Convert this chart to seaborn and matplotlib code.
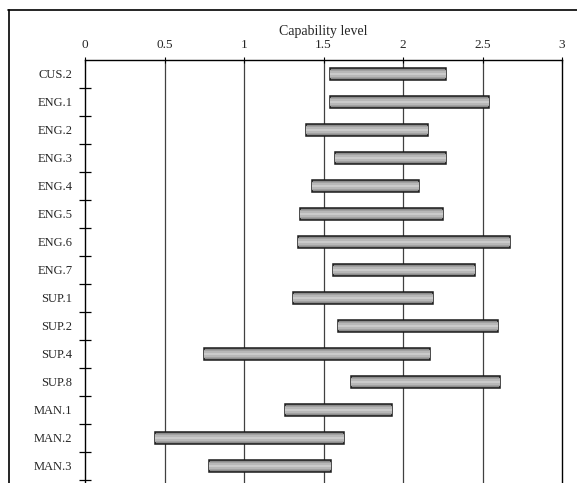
import pandas as pd
import matplotlib.pyplot as plt
import seaborn as sns
from matplotlib.lines import Line2D

processes = ["CUS.2", "ENG.1", "ENG.2", "ENG.3", "ENG.4", "ENG.5", "ENG.6", "ENG.7",
             "SUP.1", "SUP.2", "SUP.4", "SUP.8", "MAN.1", "MAN.2", "MAN.3"]
low = [1.54, 1.54, 1.39, 1.57, 1.43, 1.35, 1.34, 1.56,
       1.31, 1.59, 0.75, 1.67, 1.26, 0.44, 0.78]
high = [2.27, 2.54, 2.16, 2.27, 2.10, 2.25, 2.67, 2.45,
        2.19, 2.60, 2.17, 2.61, 1.93, 1.63, 1.55]
xticks = [0, 0.5, 1, 1.5, 2, 2.5, 3]
xticklabels = ["0", "0.5", "1", "1.5", "2", "2.5", "3"]

df = pd.DataFrame({"process": processes, "low": low, "high": high})
df["span"] = df["high"] - df["low"]

sns.set_theme(style="white")
plt.rcParams["font.family"] = ["Liberation Serif", "DejaVu Serif"]

fig = plt.figure(figsize=(5.77, 4.83), dpi=100)
ax = fig.add_axes([85 / 577, 0, 477 / 577, 423 / 483])

# vertical grid lines behind the bars
for v in xticks[1:-1]:
    ax.axvline(v, color="#404040", lw=0.9, zorder=0)

# bars with a simple "cylinder" shading: stacked layers, lighter in the middle
layers = [(0.42, "#8c8c8c", "#1a1a1a", 1.1),
          (0.30, "#a2a2a2", "none", 0),
          (0.20, "#b8b8b8", "none", 0),
          (0.08, "#cbcbcb", "none", 0)]
for h, fc, ec, lw in layers:
    sns.barplot(data=df, y="process", x="span", left=df["low"], order=processes,
                orient="h", width=h, color=fc, edgecolor=ec, linewidth=lw,
                saturation=1, errorbar=None, ax=ax, zorder=3)

ax.set_xlim(0, 3)
ax.set_ylim(14.5 + 3 / 28, -0.5)

ax.xaxis.tick_top()
ax.xaxis.set_label_position("top")
ax.set_xticks(xticks)
ax.set_xticklabels(xticklabels, fontsize=9.5)
ax.set_xlabel("Capability level", fontsize=10, labelpad=3)
ax.tick_params(axis="x", top=True, bottom=False, direction="inout", length=5,
               width=0.8, color="black", pad=4)

ax.set_ylabel("")
ax.set_yticks(range(len(processes)))
ax.set_yticklabels(processes, fontsize=9)
ax.tick_params(axis="y", left=False, pad=3)
ax.set_yticks([i + 0.5 for i in range(len(processes))], minor=True)
ax.tick_params(axis="y", which="minor", left=True, direction="inout", length=9,
               width=0.9, color="black")

for side in ["top", "left", "right"]:
    ax.spines[side].set_visible(True)
    ax.spines[side].set_color("black")
    ax.spines[side].set_linewidth(1.0)
ax.spines["bottom"].set_visible(False)

# outer chart frame
fig.add_artist(Line2D([8 / 577, 1], [1 - 10 / 483] * 2, color="black", lw=1.2,
                      transform=fig.transFigure))
fig.add_artist(Line2D([8.5 / 577] * 2, [0, 1 - 10 / 483], color="black", lw=1.2,
                      transform=fig.transFigure))

fig.savefig("out.png", dpi=100)
